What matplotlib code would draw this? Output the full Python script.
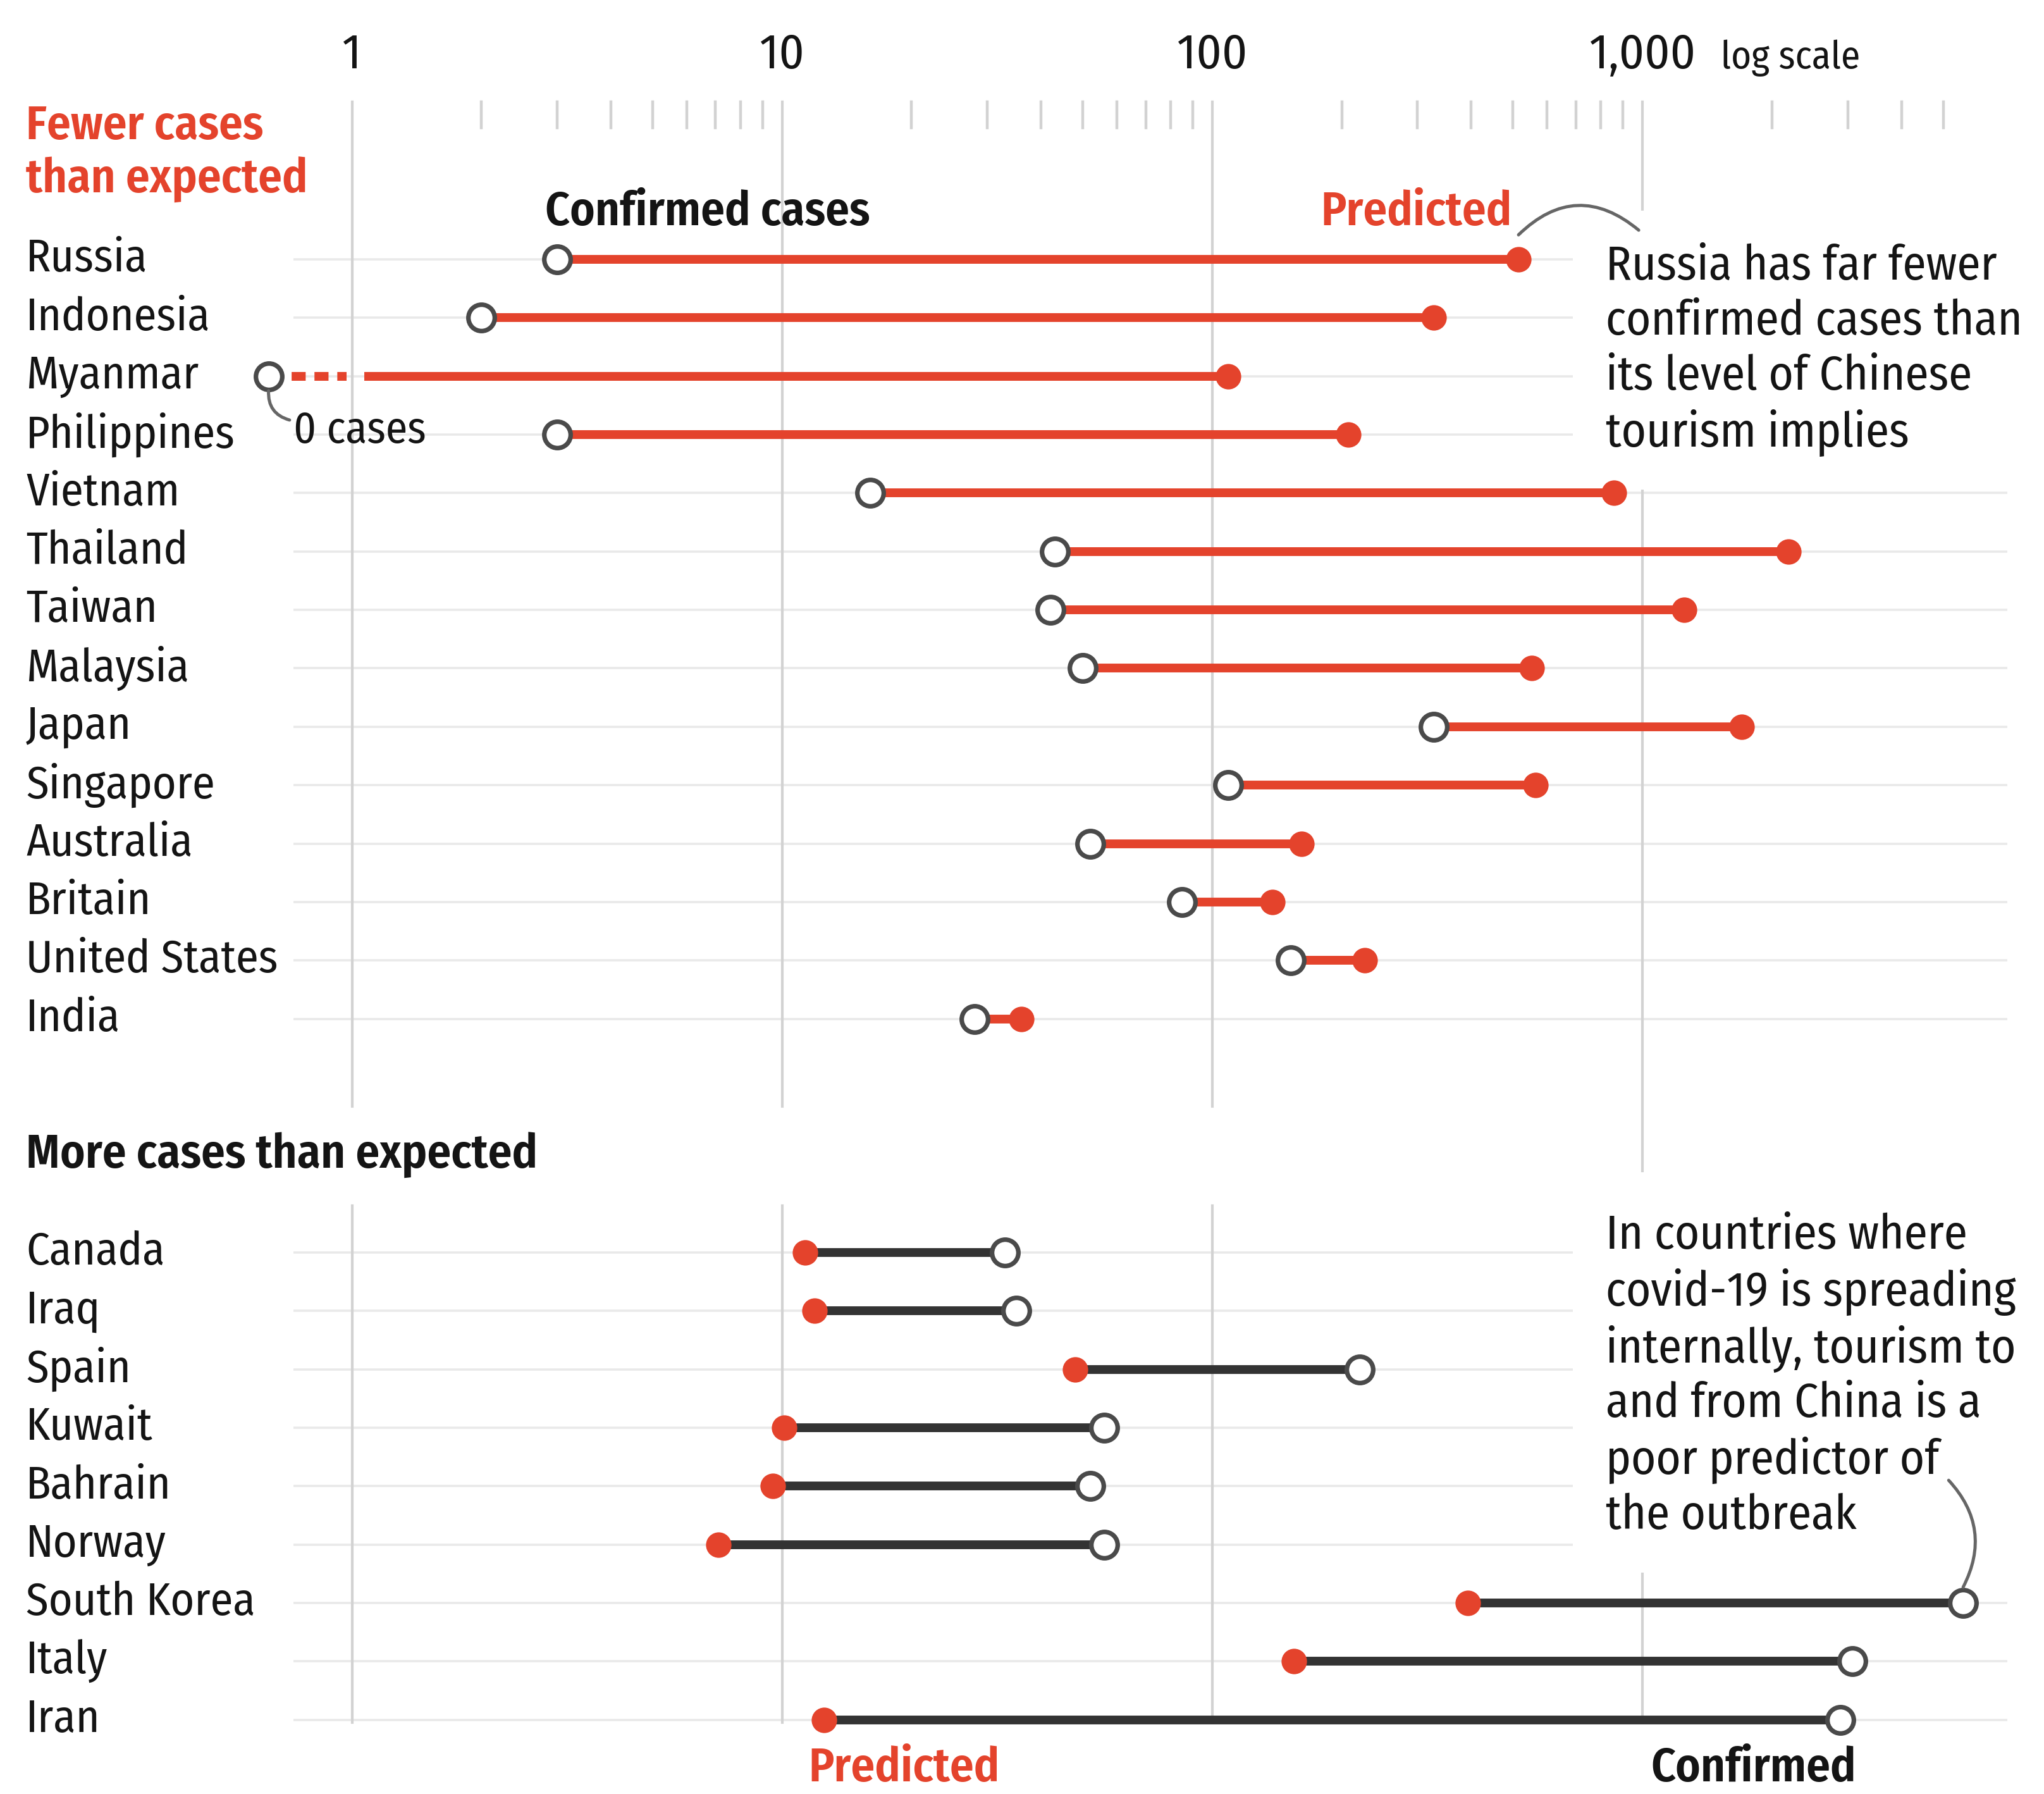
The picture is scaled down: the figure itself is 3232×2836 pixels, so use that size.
import numpy as np
import matplotlib.pyplot as plt

plt.rcParams['font.family'] = ['Fira Sans Condensed', 'Lato', 'DejaVu Sans']

RED = '#e4432c'
DARK = '#333333'
RING = '#4a4a4a'
GRID = '#d2d2d2'
ROWLINE = '#e9e9e9'
INK = '#141414'

# fewer cases than expected (red lines: confirmed -> predicted)
fewer_countries = ['Russia', 'Indonesia', 'Myanmar', 'Philippines', 'Vietnam', 'Thailand',
                   'Taiwan', 'Malaysia', 'Japan', 'Singapore', 'Australia', 'Britain',
                   'United States', 'India']
fewer_confirmed = [3, 2, 0, 3, 16, 43, 42, 50, 327, 109, 52, 85, 152, 28]
fewer_predicted = [515, 327, 109, 207, 858, 2185, 1250, 553, 1700, 564, 161, 138, 226, 36]

# more cases than expected (dark lines: predicted -> confirmed)
more_countries = ['Canada', 'Iraq', 'Spain', 'Kuwait', 'Bahrain', 'Norway',
                  'South Korea', 'Italy', 'Iran']
more_predicted = [11.3, 11.9, 48, 10.1, 9.5, 7.1, 393, 155, 12.5]
more_confirmed = [33, 35, 220, 56, 52, 56, 5564, 3076, 2888]

tick_values = [1, 10, 100, 1000]
tick_labels = ['1', '10', '100', '1,000']

ZERO_AT = 0.64  # where "0 cases" sits on the log axis

FS = 27       # headers and notes
FS_ROW = 26   # country names

fig = plt.figure(figsize=(16.16, 14.18), dpi=200)
ax = fig.add_axes([0, 0, 1, 1])
ax.set_xscale('log')
ax.set_xlim(0.152, 8578)
ax.set_ylim(26.27, -4.44)
ax.axis('off')

top_rows = np.arange(len(fewer_countries))
bot_rows = np.arange(len(more_countries)) + 17

lab = ax.get_yaxis_transform()  # x in axes fraction, y in data


def xfrac(px):
    return px / 1568


# row gridlines
for r in list(top_rows) + list(bot_rows):
    ax.plot([0.73, 7050], [r, r], color=ROWLINE, lw=1.3, zorder=0, solid_capstyle='butt')

# vertical gridlines and minor ticks
for v in tick_values:
    ax.plot([v, v], [-2.70, 15.6 if v == 1000 else 14.5], color=GRID, lw=1.5, zorder=0.5)
    ax.plot([v, v], [16.2, 25.05], color=GRID, lw=1.5, zorder=0.5)
minor = [m * 10 ** k for k in range(3) for m in range(2, 10)] + [2000, 3000, 4000, 5000]
for v in minor:
    ax.plot([v, v], [-2.70, -2.25], color=GRID, lw=1.6, zorder=0.5)

for v, t in zip(tick_values, tick_labels):
    ax.text(v, -3.5, t, ha='center', va='center', fontsize=28, color=INK)
ax.text(xfrac(1320), -3.45, 'log scale', transform=lab, ha='left', va='center',
        fontsize=22, color=INK)

# fewer cases rows
for r, name, c, p in zip(top_rows, fewer_countries, fewer_confirmed, fewer_predicted):
    ax.text(xfrac(20), r, name, transform=lab, ha='left', va='center', fontsize=FS_ROW, color=INK)
    if c == 0:
        ax.plot([ZERO_AT, 0.97], [r, r], color=RED, lw=5, ls=(0, (1.6, 1.0)), zorder=3,
                solid_capstyle='butt')
        ax.plot([1.07, p], [r, r], color=RED, lw=5, zorder=3, solid_capstyle='butt')
        cx = ZERO_AT
    else:
        ax.plot([c, p], [r, r], color=RED, lw=5, zorder=3, solid_capstyle='butt')
        cx = c
    ax.plot(cx, r, 'o', ms=15, mfc='white', mec=RING, mew=2.6, zorder=4)
    ax.plot(p, r, 'o', ms=14.5, color=RED, mew=0, zorder=4)

# more cases rows
for r, name, p, c in zip(bot_rows, more_countries, more_predicted, more_confirmed):
    ax.text(xfrac(20), r, name, transform=lab, ha='left', va='center', fontsize=FS_ROW, color=INK)
    ax.plot([p, c], [r, r], color=DARK, lw=5, zorder=3, solid_capstyle='butt')
    ax.plot(p, r, 'o', ms=14.5, color=RED, mew=0, zorder=4)
    ax.plot(c, r, 'o', ms=15, mfc='white', mec=RING, mew=2.6, zorder=4)

# headers
hw = 'semibold'
ax.text(xfrac(20), -2.27, 'Fewer cases', transform=lab, ha='left', va='center',
        fontsize=FS, fontweight=hw, color=RED)
ax.text(xfrac(20), -1.36, 'than expected', transform=lab, ha='left', va='center',
        fontsize=FS, fontweight=hw, color=RED)
ax.text(xfrac(418), -0.80, 'Confirmed cases', transform=lab, ha='left', va='center',
        fontsize=FS, fontweight=hw, color=INK)
ax.text(xfrac(1160), -0.80, 'Predicted', transform=lab, ha='right', va='center',
        fontsize=FS, fontweight=hw, color=RED)
ax.text(xfrac(20), 15.34, 'More cases than expected', transform=lab, ha='left', va='center',
        fontsize=FS, fontweight=hw, color=INK)
ax.text(xfrac(620), 25.84, 'Predicted', transform=lab, ha='left', va='center',
        fontsize=FS, fontweight=hw, color=RED)
ax.text(xfrac(1424), 25.84, 'Confirmed', transform=lab, ha='right', va='center',
        fontsize=FS, fontweight=hw, color=INK)

# annotations
box = dict(boxstyle='square,pad=0.7', fc='white', ec='none')
ax.text(xfrac(1232), -0.27,
        'Russia has far fewer\nconfirmed cases than\nits level of Chinese\ntourism implies',
        transform=lab, ha='left', va='top', fontsize=FS, color=INK, linespacing=1.25,
        bbox=box, zorder=2)
ax.text(xfrac(1232), 16.32,
        'In countries where\ncovid-19 is spreading\ninternally, tourism to\n'
        'and from China is a\npoor predictor of\nthe outbreak',
        transform=lab, ha='left', va='top', fontsize=FS, color=INK, linespacing=1.25,
        bbox=box, zorder=2)
ax.text(xfrac(225), 2.94, '0 cases', transform=lab, ha='left', va='center',
        fontsize=25, color=INK)

arc = dict(arrowstyle='-', color='#666666', lw=1.8, shrinkA=0, shrinkB=0)
ax.annotate('', xy=(980, -0.5), xytext=(fewer_predicted[0], -0.42),
            arrowprops=dict(arc, connectionstyle='arc3,rad=-0.45'), zorder=5)
ax.annotate('', xy=(0.716, 2.75), xytext=(ZERO_AT, 2.25),
            arrowprops=dict(arc, connectionstyle='arc3,rad=0.4'), zorder=5)
ax.annotate('', xy=(more_confirmed[6], 23 - 0.27), xytext=(5150, 20.9),
            arrowprops=dict(arc, connectionstyle='arc3,rad=-0.35'), zorder=5)

fig.savefig('out.png', dpi=200, facecolor='white')
